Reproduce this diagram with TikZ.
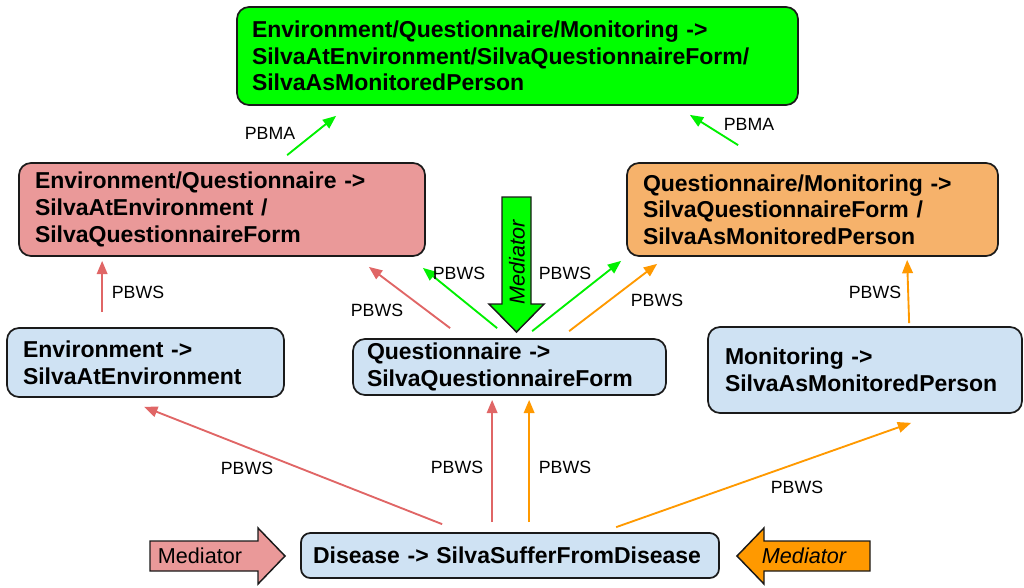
\documentclass[tikz,border=0pt]{standalone}
\usepackage{fontspec}
\setmainfont{Liberation Sans}
\usetikzlibrary{arrows.meta,calc}
\definecolor{cgreen}{HTML}{00FF00}
\definecolor{cred}{HTML}{EA9999}
\definecolor{corange}{HTML}{F6B26B}
\definecolor{cblue}{HTML}{CFE2F3}
\definecolor{lred}{HTML}{E06666}
\definecolor{lorange}{HTML}{FF9900}
\definecolor{lgreen}{HTML}{00F000}
\definecolor{edge}{HTML}{1A1A1A}
\tikzset{
  box/.style={draw=edge, line width=1.3pt, rounded corners=9pt, align=left,
    inner ysep=0pt, font=\bfseries\fontsize{17.25}{20}\selectfont},
  lbl/.style={font=\fontsize{13.3}{15}\selectfont, inner sep=0pt},
  medtext/.style={font=\fontsize{16.2}{18}\selectfont, inner sep=0pt},
  conn/.style={line width=1.4pt, -{Triangle[length=10pt,width=8pt]}},
  rconn/.style={conn, draw=lred, -{Triangle[length=10pt,width=8pt,fill=lred]}},
  oconn/.style={conn, draw=lorange},
  gconn/.style={conn, draw=lgreen},
  blockarrow/.style={draw=edge, line width=1.1pt, line join=miter}
}
\begin{document}
\begin{tikzpicture}[x=0.75pt,y=-0.75pt]
\useasboundingbox (0,0) rectangle (1024,587);

% boxes
\node[box, fill=cgreen, text width=398.25pt, inner xsep=11.25pt, minimum height=73.5pt] (top) at (517.5,56)
  {Environment/Questionnaire/Monitoring ->\\SilvaAtEnvironment/SilvaQuestionnaireForm/\\SilvaAsMonitoredPerson};
\node[box, fill=cred, text width=280.5pt, inner xsep=12pt, minimum height=69.75pt] (red) at (222,209.5)
  {Environment/Questionnaire ->\\SilvaAtEnvironment /\\SilvaQuestionnaireForm};
\node[box, fill=corange, text width=254.25pt, inner xsep=12pt, minimum height=69.75pt] (orange) at (812.5,209.5)
  {Questionnaire/Monitoring ->\\SilvaQuestionnaireForm /\\SilvaAsMonitoredPerson};
\node[box, fill=cblue, text width=183.75pt, inner xsep=12pt, minimum height=51.75pt] (env) at (145.5,362.5)
  {Environment ->\\SilvaAtEnvironment};
\node[box, fill=cblue, text width=213.75pt, inner xsep=10.5pt, minimum height=42pt] (quest) at (509.5,367)
  {Questionnaire ->\\SilvaQuestionnaireForm};
\node[box, fill=cblue, text width=210pt, inner xsep=12.75pt, minimum height=64.5pt] (monit) at (865,370)
  {Monitoring ->\\SilvaAsMonitoredPerson};
\node[box, fill=cblue, rounded corners=7pt, text width=295.5pt, inner xsep=9pt, minimum height=33.75pt] (dis) at (510,555.5)
  {Disease -> SilvaSufferFromDisease};

% block arrows (Mediator)
\draw[blockarrow, fill=cred] (150,541) -- (258,541) -- (258,528) -- (285,556) -- (258,584) -- (258,571) -- (150,571) -- cycle;
\node[medtext] (medred) at (200,556) {Mediator};
\draw[blockarrow, fill=lorange] (870,541) -- (764,541) -- (764,528) -- (737,556) -- (764,584) -- (764,571) -- (870,571) -- cycle;
\node[medtext, font=\itshape\fontsize{16.2}{18}\selectfont] (medorange) at (804,556) {Mediator};
\draw[blockarrow, fill=cgreen] (502,197) -- (531,197) -- (531,304) -- (544,304) -- (516.5,332) -- (489,304) -- (502,304) -- cycle;
\node[medtext, font=\itshape\fontsize{16.2}{18}\selectfont, rotate=90] (medgreen) at (517,262) {Mediator};

% connectors
\draw[gconn] ($(red.north west)+(269,-7)$) -- ($(top.south west)+(100,10)$);
\draw[gconn] ($(orange.north west)+(112,-17)$) -- ($(top.south east)+(-109,9)$);
\draw[rconn] ($(env.north west)+(96,-15)$) -- ($(red.south west)+(84,4)$);
\draw[rconn] ($(quest.north west)+(98,-10)$) -- ($(red.south east)+(-57,10)$);
\draw[gconn] ($(quest.north west)+(145,-10)$) -- ($(red.south east)+(-3,11)$);
\draw[gconn] ($(quest.north west)+(180,-7)$) -- ($(orange.south west)+(-5,4)$);
\draw[oconn] ($(quest.north west)+(217,-7)$) -- ($(orange.south west)+(31,7)$);
\draw[oconn] ($(monit.north west)+(202,-3)$) -- ($(orange.south west)+(281,3)$);
\draw[rconn] ($(dis.north west)+(142,-8)$) -- ($(env.south west)+(138,9)$);
\draw[rconn] ($(dis.north west)+(192,-10)$) -- ($(quest.south west)+(140,4)$);
\draw[oconn] ($(dis.north west)+(229,-10)$) -- ($(quest.south west)+(177,4)$);
\draw[oconn] ($(dis.north west)+(316,-5)$) -- ($(monit.south west)+(204,9)$);

% labels
\node[lbl] (pbma1) at (270,133) {PBMA};
\node[lbl] (pbma2) at (749,124) {PBMA};
\node[lbl] (w1) at (138,292) {PBWS};
\node[lbl] (w2) at (377,310) {PBWS};
\node[lbl] (w3) at (459,273) {PBWS};
\node[lbl] (w4) at (565,273) {PBWS};
\node[lbl] (w5) at (657,300) {PBWS};
\node[lbl] (w6) at (875,292) {PBWS};
\node[lbl] (w7) at (247,468) {PBWS};
\node[lbl] (w8) at (457,467) {PBWS};
\node[lbl] (w9) at (565,467) {PBWS};
\node[lbl] (w10) at (797,487) {PBWS};
\end{tikzpicture}
\end{document}
